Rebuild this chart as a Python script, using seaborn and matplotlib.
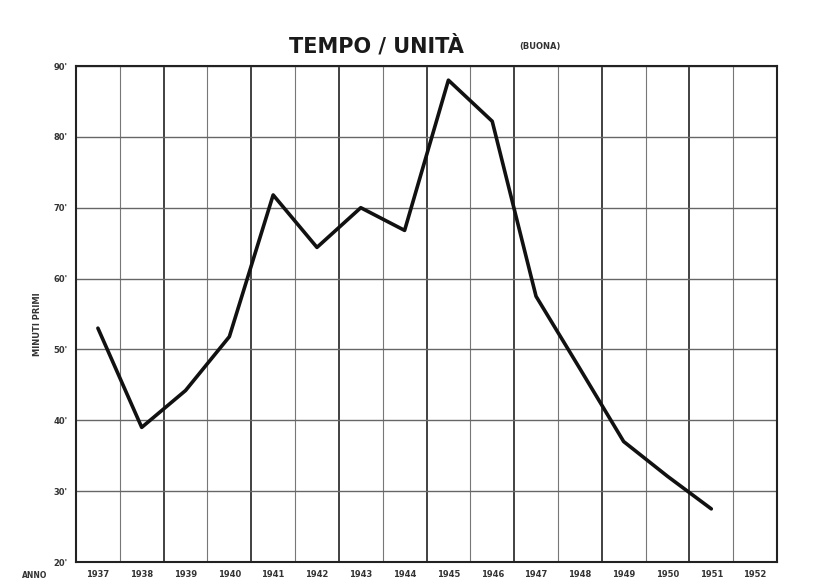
import matplotlib
matplotlib.use("Agg")
import matplotlib.pyplot as plt
import seaborn as sns
import pandas as pd
import numpy as np

years = [1937, 1938, 1939, 1940, 1941, 1942, 1943, 1944, 1945, 1946, 1947, 1948, 1949, 1950, 1951]
minutes = [53.0, 39.0, 44.2, 51.8, 71.8, 64.4, 70.0, 66.8, 88.0, 82.2, 57.5, 47.3, 37.0, 32.1, 27.5]
tick_years = list(range(1937, 1953))
y_ticks = [20, 30, 40, 50, 60, 70, 80, 90]
y_tick_labels = ["20'", "30'", "40'", "50'", "60'", "70'", "80'", "90'"]

sns.set_theme(style="white")
plt.rcParams['font.family'] = ['DejaVu Sans']

df = pd.DataFrame({"anno": years, "minuti": minutes})

fig = plt.figure(figsize=(8.24, 5.81), dpi=100)
ax = fig.add_axes([76/824, 1 - 562/581, (777-76)/824, (562-66)/581])

# grid: vertical lines between years, horizontal every 10'
for k, xv in enumerate(np.arange(1936.5, 1953.0, 1.0)):
    lw = 1.3 if k % 2 == 0 else 0.8
    col = "#333333" if k % 2 == 0 else "#777777"
    ax.axvline(xv, color=col, lw=lw, zorder=1)
for yv in y_ticks:
    ax.axhline(yv, color="#666666", lw=1.0, zorder=1)

sns.lineplot(data=df, x="anno", y="minuti", ax=ax, color="#111111", lw=2.6, zorder=3)

ax.set_xlim(1936.5, 1952.5)
ax.set_ylim(20, 90)
ax.set_xticks(tick_years)
ax.set_xticklabels([str(y) for y in tick_years], fontsize=6, color="#333333", fontweight="bold")
ax.set_yticks(y_ticks)
ax.set_yticklabels(y_tick_labels, fontsize=6, color="#333333", fontweight="bold")
ax.tick_params(length=0, pad=6)
ax.set_xlabel("")
ax.set_ylabel("MINUTI PRIMI", fontsize=6, color="#333333", labelpad=6, fontweight="bold")
ax.yaxis.set_label_coords(-0.048, 0.48)
for s in ax.spines.values():
    s.set_color("#222222")
    s.set_linewidth(1.5)

fig.text(22/824, 1 - 576/581, "ANNO", fontsize=5.5, color="#333333", va="center", fontweight="bold")
fig.text(376/824, 1 - 46/581, "TEMPO / UNITÀ", fontsize=15, color="#1a1a1a",
         ha="center", va="center", fontweight="bold")
fig.text(540/824, 1 - 46/581, "(BUONA)", fontsize=6, color="#333333",
         ha="center", va="center", fontweight="bold")

fig.savefig("out.png", dpi=100, facecolor="white")
